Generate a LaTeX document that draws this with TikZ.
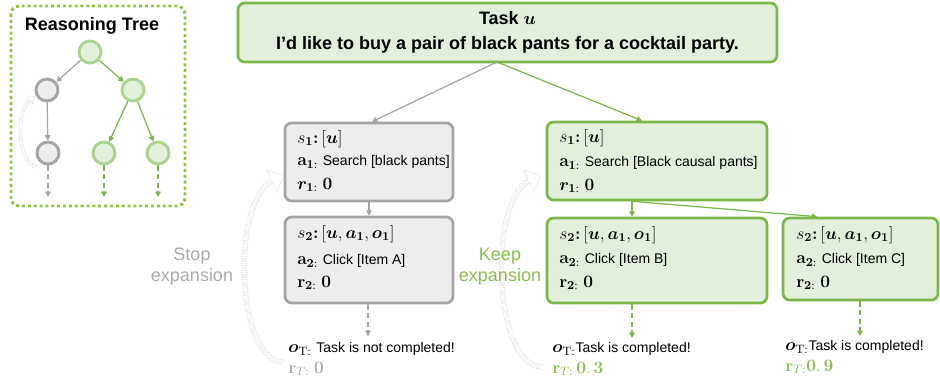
\RequirePackage{fix-cm}
\documentclass[tikz,border=0pt]{standalone}
\usepackage[no-math]{fontspec}
\setmainfont{Liberation Sans}
\usepackage{amsmath,bm}
\usetikzlibrary{arrows.meta,calc}
\definecolor{gline}{RGB}{122,182,72}
\definecolor{gfill}{RGB}{226,239,218}
\definecolor{gyline}{RGB}{165,165,165}
\definecolor{gyfill}{RGB}{237,237,237}
\definecolor{gytext}{RGB}{172,172,172}
\definecolor{gtext}{RGB}{136,192,76}
\definecolor{ring}{RGB}{172,211,145}
\definecolor{dotg}{RGB}{141,198,63}
\definecolor{outl}{RGB}{200,200,200}
\newcommand\sw[1]{{\fontsize{10.5}{12}\selectfont #1}}
\newcommand\cln{{\boldsymbol{:}}}
\begin{document}
\begin{tikzpicture}[x=0.75pt,y=-0.75pt,
  greenbox/.style={draw=gline, fill=gfill, line width=2pt, rounded corners=5pt, inner sep=0pt},
  graybox/.style={draw=gyline, fill=gyfill, line width=2pt, rounded corners=5pt, inner sep=0pt},
  txt/.style={anchor=west, inner sep=0pt, font=\fontsize{13}{15}\selectfont},
  tip/.style={-{Triangle[width=4.2pt,length=4pt]}},
  gyarrow/.style={draw=gyline, line width=0.9pt, tip},
  garrow/.style={draw=gline, line width=0.9pt, tip},
  dsh/.style={dash pattern=on 4pt off 2.5pt},
  hollow/.style={draw=outl, line width=0.5pt, dash pattern=on 0.6pt off 1.1pt, double=white, double distance=3pt},
  hhead/.style={draw=outl, line width=0.5pt, dash pattern=on 0.6pt off 1.1pt},
  tcirc/.style={circle, minimum size=16.5pt, inner sep=0pt, line width=2.2pt},
  gcirc/.style={tcirc, draw=ring, fill=gfill},
  ycirc/.style={tcirc, draw=gyline, fill=gyfill},
  big/.style={font=\fontsize{13.5}{16}\selectfont}
]
\useasboundingbox (0,0) rectangle (940,383);

% ---------- reasoning tree ----------
\draw[dotg, line width=2.2pt, dash pattern=on 2.2pt off 2.2pt, rounded corners=6pt] (11,6) rectangle (185,206);
\node[big, font=\bfseries\fontsize{13.5}{16}\selectfont] (rtitle) at (92,26) {Reasoning Tree};
\node[gcirc] (root) at (90,52) {};
\node[ycirc] (tl) at (47,90) {};
\node[gcirc] (tr) at (133,90) {};
\node[ycirc] (bl) at (48,153) {};
\node[gcirc] (bm) at (104,153) {};
\node[gcirc] (br) at (158,153) {};
\draw[gyarrow] (root) -- (tl);
\draw[garrow] (root) -- (tr);
\draw[gyarrow] (tl) -- (bl);
\draw[garrow] (tr) -- (bm);
\draw[garrow] (tr) -- (br);
\coordinate (ebl) at (48,197);
\coordinate (ebm) at (104,197);
\coordinate (ebr) at (158,197);
\draw[gyarrow, dsh] (bl) -- (ebl);
\draw[garrow, dsh] (bm) -- (ebm);
\draw[garrow, dsh] (br) -- (ebr);
\draw[hollow, double distance=1.8pt] (36,167) .. controls (18,162) and (15,112) .. (30,100);
\draw[hhead] (30.9,101.3) -- (32.75,104.15) -- (35,96.7) -- (27.25,95.85) -- (29.1,98.7);

% ---------- hollow curved arrows ----------
\draw[hollow] (283,362) .. controls (235,360) and (232,200) .. (272,181);
\draw[hhead] (273.1,183.3) -- (277.1,191.8) -- (283.7,175.4) -- (266.9,170.2) -- (270.9,178.7);
\draw[hollow] (542,367) .. controls (492,365) and (489,200) .. (529,181);
\draw[hhead] (530.1,183.3) -- (534.1,191.8) -- (540.7,175.4) -- (523.9,170.2) -- (527.9,178.7);

% ---------- task ----------
\node[greenbox, minimum width=404.25pt, minimum height=44.25pt, align=center,
      font=\bfseries\fontsize{13.5}{19}\selectfont] (task) at (507.5,32.5)
  {Task $\bm{u}$\\I'd like to buy a pair of black pants for a cocktail party.};

% ---------- boxes ----------
\node[graybox, minimum width=126pt, minimum height=58.5pt] (gs1) at (369,162) {};
\node[graybox, minimum width=126pt, minimum height=64.5pt] (gs2) at (369,260) {};
\node[greenbox, minimum width=165pt, minimum height=58.5pt] (ps1) at (657,161) {};
\node[greenbox, minimum width=165pt, minimum height=63.75pt] (pb) at (657,260.5) {};
\node[greenbox, minimum width=116.25pt, minimum height=61.5pt] (pc) at (860.5,259) {};

% box texts
\node[txt] (gs1a) at (297,139) {$s_{\mathbf 1}\cln\,[\bm{u}]$};
\node[txt] (gs1b) at (297,162) {$\mathbf{a}_{\mathbf{1}:}$ \sw{Search [black pants]}};
\node[txt] (gs1c) at (297,185) {$\bm{r}_{\mathbf{1}:}\ \mathbf{0}$};
\node[txt] (gs2a) at (297,234) {$s_{\mathbf 2}\cln\,[\bm{u},\bm{a}_{\mathbf 1},\bm{o}_{\mathbf 1}]$};
\node[txt] (gs2b) at (297,261) {$\mathbf{a}_{\mathbf{2}:}$ \sw{Click [Item A]}};
\node[txt] (gs2c) at (297,283) {$\mathbf{r}_{\mathbf{2}:}\ \mathbf{0}$};

\node[txt] (ps1a) at (559,138) {$s_{\mathbf 1}\cln\,[\bm{u}]$};
\node[txt] (ps1b) at (559,163) {$\mathbf{a}_{\mathbf{1}:}$ \sw{Search [Black causal pants]}};
\node[txt] (ps1c) at (559,186) {$\bm{r}_{\mathbf{1}:}\ \mathbf{0}$};
\node[txt] (pba) at (559,235) {$s_{\mathbf 2}\cln\,[\bm{u},\bm{a}_{\mathbf 1},\bm{o}_{\mathbf 1}]$};
\node[txt] (pbb) at (559,260) {$\mathbf{a}_{\mathbf{2}:}$ \sw{Click [Item B]}};
\node[txt] (pbc) at (559,283) {$\mathbf{r}_{\mathbf{2}:}\ \mathbf{0}$};

\node[txt] (pca) at (796,235) {$s_{\mathbf 2}\cln\,[\bm{u},\bm{a}_{\mathbf 1},\bm{o}_{\mathbf 1}]$};
\node[txt] (pcb) at (796,260) {$\mathbf{a}_{\mathbf{2}:}$ \sw{Click [Item C]}};
\node[txt] (pcc) at (796,283) {$\mathbf{r}_{\mathbf{2}:}\ \mathbf{0}$};

% ---------- connectors ----------
\coordinate (tsp) at (497,62);
\draw[gyarrow] (tsp) -- ($(gs1.north)+(3,0)$);
\draw[garrow] (tsp) -- ($(ps1.north)+(-15,0)$);
\draw[gyarrow] (gs1.south) -- (gs2.north);
\coordinate (tB) at (632,0);
\draw[garrow] (ps1.south -| tB) -- (pb.north -| tB);
\draw[garrow] ($(ps1.south)+(-24,0)$) -- ($(pc.north)+(-43.5,0)$);
\coordinate (egy) at (368,336);
\coordinate (egb) at (632,338);
\coordinate (egc) at (860,336);
\draw[gyarrow, dsh] (gs2.south -| egy) -- (egy);
\draw[garrow, dsh] (pb.south -| egb) -- (egb);
\draw[garrow, dsh] (pc.south -| egc) -- (egc);

% ---------- outcomes ----------
\node[txt] (gyo) at (288,349) {$\bm{o}_{\mathrm{T}:}$ \sw{Task is not completed!}};
\node[txt, text=gytext] (gyr) at (288,369) {$\mathbf{r}_{T:}\ \mathbf{0}$};
\node[txt] (go) at (552,349) {$\bm{o}_{\mathrm{T}:}$\sw{Task is completed!}};
\node[txt, text=gtext] (gr) at (552,369) {$\mathbf{r}_{T:}\,\mathbf{0.\,3}$};
\node[txt] (co) at (785,347) {$\bm{o}_{\mathrm{T}:}$\sw{Task is completed!}};
\node[txt, text=gtext] (cr) at (785,367) {$\mathbf{r}_{T:}\mathbf{0.\,9}$};

% ---------- side labels ----------
\node[big, text=gytext, align=center, font=\fontsize{13.5}{15.75}\selectfont] (stop) at (192,267) {Stop\\expansion};
\node[big, text=gtext, align=center, font=\fontsize{13.5}{15.75}\selectfont] (keep) at (500,267) {Keep\\expansion};
\end{tikzpicture}
\end{document}
